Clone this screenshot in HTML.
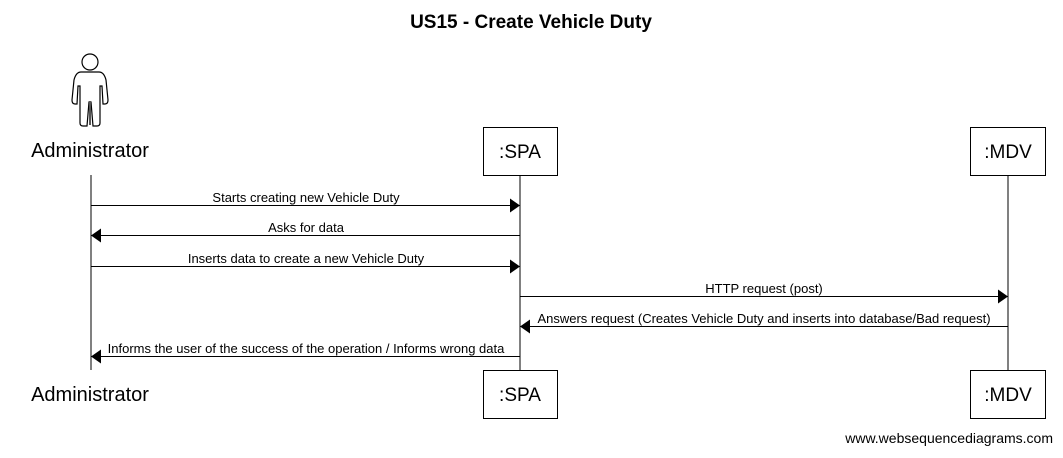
<!DOCTYPE html>
<html><head><style>body{margin:0;background:#fff}</style></head><body>
<svg width="1063" height="453" xmlns="http://www.w3.org/2000/svg" font-family="Liberation Sans, sans-serif">
<defs><marker id="a" markerWidth="10" markerHeight="14" refX="10" refY="7" orient="auto" markerUnits="userSpaceOnUse"><path d="M0,0 L10,7 L0,14 z" fill="#000"/></marker></defs>
<text x="531" y="28" text-anchor="middle" font-size="19" font-weight="bold">US15 - Create Vehicle Duty</text>
<g fill="#fff" stroke="#000" stroke-width="1.2">
<circle cx="90" cy="62" r="8"/>
<path d="M81,72 L99,72 Q104,72 106,80 L108,100 Q108,104 105,104 L103,104 L102,86 L100,86 L100,123 Q100,126 97,126 L93,126 L91,102 L89,102 L87,126 L83,126 Q80,126 80,123 L80,86 L78,86 L77,104 L75,104 Q72,104 72,100 L74,80 Q76,72 81,72 Z"/>
</g>
<line x1="90" y1="101" x2="90" y2="125" stroke="#555" stroke-width="2"/>
<text x="90" y="157" text-anchor="middle" font-size="20">Administrator</text>
<text x="90" y="401" text-anchor="middle" font-size="20">Administrator</text>
<g stroke="#000" stroke-width="1" fill="#fff">
<line x1="91" y1="175" x2="91" y2="370"/>
<line x1="520" y1="175" x2="520" y2="370"/>
<line x1="1008" y1="175" x2="1008" y2="370"/>
<rect x="483.5" y="127.5" width="74" height="48"/>
<rect x="483.5" y="370.5" width="74" height="48"/>
<rect x="970.5" y="127.5" width="75" height="48"/>
<rect x="970.5" y="370.5" width="75" height="48"/>
</g>
<g font-size="19" text-anchor="middle">
<text x="520" y="158">:SPA</text><text x="520" y="401">:SPA</text>
<text x="1008" y="158">:MDV</text><text x="1008" y="401">:MDV</text>
</g>
<g stroke="#000" stroke-width="1" marker-end="url(#a)">
<line x1="91" y1="205.5" x2="520" y2="205.5"/>
<line x1="520" y1="235.5" x2="91" y2="235.5"/>
<line x1="91" y1="266.5" x2="520" y2="266.5"/>
<line x1="520" y1="296.5" x2="1008" y2="296.5"/>
<line x1="1008" y1="326.5" x2="520" y2="326.5"/>
<line x1="520" y1="356.5" x2="91" y2="356.5"/>
</g>
<g font-size="13" text-anchor="middle">
<text x="306" y="202">Starts creating new Vehicle Duty</text>
<text x="306" y="232">Asks for data</text>
<text x="306" y="263">Inserts data to create a new Vehicle Duty</text>
<text x="764" y="293">HTTP request (post)</text>
<text x="764" y="323">Answers request (Creates Vehicle Duty and inserts into database/Bad request)</text>
<text x="306" y="353">Informs the user of the success of the operation / Informs wrong data</text>
</g>
<text x="1053" y="443" text-anchor="end" font-size="14">www.websequencediagrams.com</text>
</svg>
</body></html>
